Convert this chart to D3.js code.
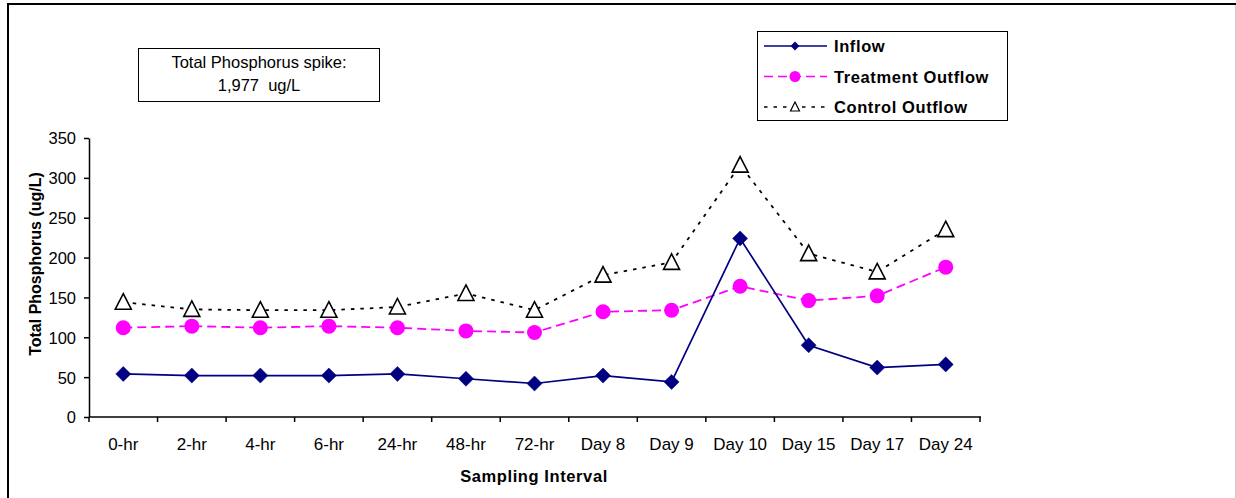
<!DOCTYPE html>
<html>
<head>
<meta charset="utf-8">
<script src="https://cdn.jsdelivr.net/npm/d3@7"></script>
<style>
  html, body { margin: 0; padding: 0; background: #fff; }
  svg { display: block; font-family: "Liberation Sans", Arial, sans-serif; }
</style>
</head>
<body>
<svg id="chart" width="1236" height="498"></svg>
<script>
const categories = ["0-hr", "2-hr", "4-hr", "6-hr", "24-hr", "48-hr", "72-hr", "Day 8", "Day 9", "Day 10", "Day 15", "Day 17", "Day 24"];
const inflow = [54, 52, 52, 52, 54, 48, 42, 52, 44, 224, 90, 62, 66];
const treatmentOutflow = [112, 114, 112, 114, 112, 108, 106, 132, 134, 164, 146, 152, 188];
const controlOutflow = [144, 135, 134, 134, 138, 155, 134, 178, 194, 316, 205, 182, 235];
const yTicks = [0, 50, 100, 150, 200, 250, 300, 350];
const seriesNames = ["Inflow", "Treatment Outflow", "Control Outflow"];

const svg = d3.select("#chart");

// outer frame (cropped)
svg.append("line").attr("x1", 7).attr("x2", 1236).attr("y1", 4).attr("y2", 4).attr("stroke", "#000").attr("stroke-width", 2);
svg.append("line").attr("x1", 8).attr("x2", 8).attr("y1", 3).attr("y2", 498).attr("stroke", "#000").attr("stroke-width", 2);
svg.append("line").attr("x1", 1235.5).attr("x2", 1235.5).attr("y1", 5).attr("y2", 498).attr("stroke", "#ccc").attr("stroke-width", 1);

const x = d3.scaleBand().domain(categories).range([89, 980]);
const y = d3.scaleLinear().domain([0, 350]).range([417, 138]);

// y axis
const yAxis = d3.axisLeft(y).tickValues(yTicks).tickSize(5).tickPadding(8).tickSizeOuter(0);
const gy = svg.append("g").attr("transform", "translate(89,0)").call(yAxis);
gy.select(".domain").attr("stroke", "#000").attr("stroke-width", 1.5);
gy.selectAll(".tick line").attr("stroke", "#000").attr("stroke-width", 1.5);
gy.selectAll(".tick text").attr("font-size", 16.5).attr("fill", "#000").attr("font-family", "Liberation Sans, Arial, sans-serif").attr("dy", "0.36em");

// x axis with ticks at category boundaries
const gx = svg.append("g").attr("transform", "translate(0,417)");
gx.append("line").attr("x1", 89).attr("x2", 981).attr("y1", 0).attr("y2", 0).attr("stroke", "#000").attr("stroke-width", 1.5);
const boundaries = categories.map(c => x(c)).concat([x(categories[categories.length - 1]) + x.bandwidth()]);
gx.selectAll("line.tk").data(boundaries).enter().append("line").attr("class", "tk")
  .attr("x1", d => d).attr("x2", d => d).attr("y1", 0).attr("y2", 5)
  .attr("stroke", "#000").attr("stroke-width", 1.5);
gx.selectAll("text.lbl").data(categories).enter().append("text").attr("class", "lbl")
  .attr("x", d => x(d) + x.bandwidth() / 2).attr("y", 33)
  .attr("text-anchor", "middle").attr("font-size", 17).attr("fill", "#000")
  .text(d => d);

// axis titles
svg.append("text").attr("x", 534).attr("y", 482).attr("text-anchor", "middle")
  .attr("font-size", 16.5).attr("font-weight", "bold").attr("letter-spacing", 0.6).text("Sampling Interval");
svg.append("text").attr("transform", "translate(41,264) rotate(-90)").attr("text-anchor", "middle")
  .attr("font-size", 16).attr("font-weight", "bold").text("Total Phosphorus (ug/L)");

const cx = c => x(c) + x.bandwidth() / 2;
const line = d3.line().x(d => cx(d[0])).y(d => y(d[1]));

const styles = [
  { data: inflow, color: "#000080", dash: null, marker: "diamond" },
  { data: treatmentOutflow, color: "#ff00ff", dash: "9,5", marker: "circle" },
  { data: controlOutflow, color: "#000", dash: "3.5,6", marker: "triangle" }
];

function drawMarker(g, type, color) {
  if (type === "diamond") {
    g.append("path").attr("d", d3.symbol(d3.symbolDiamond2, 145)())
      .attr("fill", color).attr("stroke", color).attr("stroke-width", 0.5);
  } else if (type === "circle") {
    g.append("circle").attr("r", 7.5).attr("fill", color);
  } else {
    g.append("path").attr("d", "M0,-8.5 L8,7 L-8,7 Z").attr("fill", "#fff").attr("stroke", "#000").attr("stroke-width", 1.6);
  }
}

// draw control first (behind), then treatment, then inflow
[2, 1, 0].forEach(i => {
  const s = styles[i];
  const pts = categories.map((c, j) => [c, s.data[j]]);
  svg.append("path").datum(pts).attr("d", line).attr("fill", "none")
    .attr("stroke", s.color).attr("stroke-width", i === 0 ? 1.7 : 1.8)
    .attr("stroke-dasharray", s.dash);
  pts.forEach(p => {
    const g = svg.append("g").attr("transform", `translate(${cx(p[0])},${y(p[1])})`);
    drawMarker(g, s.marker, s.color);
  });
});

// annotation box
svg.append("rect").attr("x", 138.5).attr("y", 48.5).attr("width", 241).attr("height", 53)
  .attr("fill", "#fff").attr("stroke", "#000").attr("stroke-width", 1);
svg.append("text").attr("x", 259).attr("y", 68).attr("text-anchor", "middle").attr("font-size", 16.5).text("Total Phosphorus spike:");
svg.append("text").attr("x", 259).attr("y", 91).attr("text-anchor", "middle").attr("font-size", 16.5).attr("xml:space", "preserve").text("1,977  ug/L");

// legend
const lg = svg.append("g");
lg.append("rect").attr("x", 757.5).attr("y", 31.5).attr("width", 250).attr("height", 89)
  .attr("fill", "#fff").attr("stroke", "#000").attr("stroke-width", 1);
seriesNames.forEach((name, i) => {
  const s = styles[i];
  const yy = 46 + i * 30.5;
  lg.append("line").attr("x1", 764).attr("x2", 827).attr("y1", yy).attr("y2", yy)
    .attr("stroke", s.color).attr("stroke-width", 1.6).attr("stroke-dasharray", s.dash);
  const g = lg.append("g").attr("transform", `translate(795,${yy})`);
  if (s.marker === "diamond") {
    g.append("path").attr("d", d3.symbol(d3.symbolDiamond2, 50)()).attr("fill", s.color);
  } else if (s.marker === "circle") {
    g.append("circle").attr("r", 5.5).attr("fill", s.color);
  } else {
    g.append("path").attr("d", "M0,-5 L4.5,4 L-4.5,4 Z").attr("fill", "#fff").attr("stroke", "#000").attr("stroke-width", 1.2);
  }
  lg.append("text").attr("x", 834).attr("y", yy + 6).attr("font-size", 16.5).attr("font-weight", "bold").attr("letter-spacing", 0.6).text(name);
});
</script>
</body>
</html>
